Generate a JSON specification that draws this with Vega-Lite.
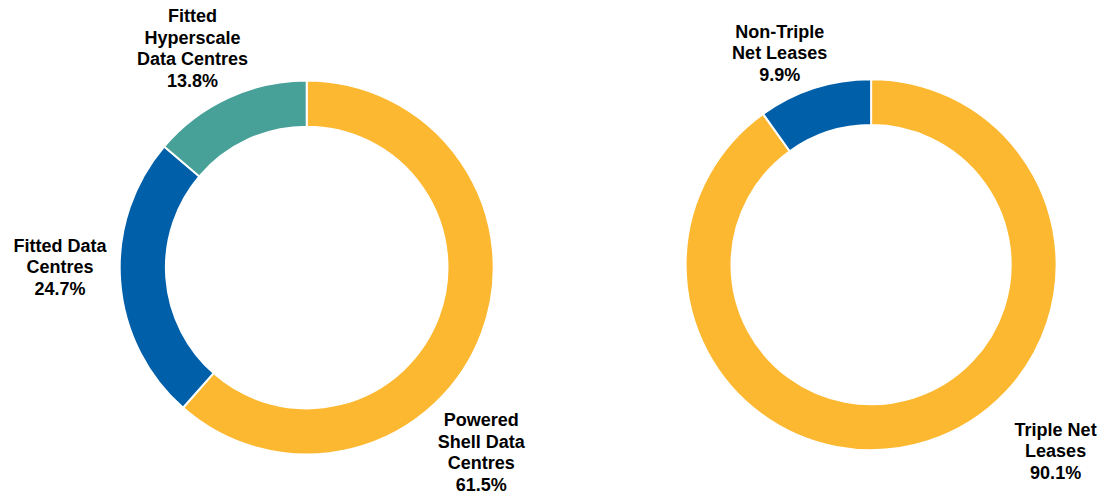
{
  "$schema": "https://vega.github.io/schema/vega-lite/v6.json",
  "padding": 0,
  "spacing": 27.1,
  "background": "white",
  "config": {
    "view": {"stroke": null},
    "text": {"font": "Liberation Sans", "fontSize": 18, "fontWeight": "bold", "lineHeight": 21.5, "lineBreak": "\n", "align": "center", "baseline": "middle", "color": "#000000"}
  },
  "datasets": {
    "assets": [
      {"seq": 1, "segment": "Powered Shell Data Centres", "label": "Powered\nShell Data\nCentres", "share": 61.5},
      {"seq": 2, "segment": "Fitted Data Centres", "label": "Fitted Data\nCentres", "share": 24.7},
      {"seq": 3, "segment": "Fitted Hyperscale Data Centres", "label": "Fitted\nHyperscale\nData Centres", "share": 13.8}
    ],
    "leases": [
      {"seq": 1, "segment": "Triple Net Leases", "label": "Triple Net\nLeases", "share": 90.1},
      {"seq": 2, "segment": "Non-Triple Net Leases", "label": "Non-Triple\nNet Leases", "share": 9.9}
    ]
  },
  "hconcat": [
    {
      "width": 613.4,
      "height": 535,
      "data": {"name": "assets"},
      "transform": [
        {"calculate": "datum.label + '\\n' + format(datum.share, '.1f') + '%'", "as": "caption"},
        {"stack": "share", "groupby": [], "sort": [{"field": "seq", "order": "ascending"}], "as": ["start", "end"]},
        {"calculate": "(datum.start + datum.end) / 2", "as": "mid"}
      ],
      "layer": [
        {
          "mark": {"type": "arc", "outerRadius": 187, "innerRadius": 140.8, "stroke": "white", "strokeWidth": 2},
          "encoding": {
            "theta": {"field": "start", "type": "quantitative", "scale": {"domain": [0, 100]}},
            "theta2": {"field": "end"},
            "color": {
              "field": "segment",
              "type": "nominal",
              "scale": {
                "domain": ["Powered Shell Data Centres", "Fitted Data Centres", "Fitted Hyperscale Data Centres"],
                "range": ["#FCB830", "#005FA9", "#47A198"]
              },
              "legend": null
            }
          }
        },
        {
          "transform": [{"filter": "datum.seq == 1"}],
          "mark": {"type": "text", "radius": 255, "thetaOffset": 0.4552, "dy": -32.25},
          "encoding": {
            "theta": {"field": "mid", "type": "quantitative", "scale": {"domain": [0, 100]}},
            "text": {"field": "caption"}
          }
        },
        {
          "transform": [{"filter": "datum.seq == 2"}],
          "mark": {"type": "text", "radius": 246.7, "thetaOffset": 0.0784, "dy": -19},
          "encoding": {
            "theta": {"field": "mid", "type": "quantitative", "scale": {"domain": [0, 100]}},
            "text": {"field": "caption"}
          }
        },
        {
          "transform": [{"filter": "datum.seq == 3"}],
          "mark": {"type": "text", "radius": 246.9, "thetaOffset": -0.0473, "dy": -31.5},
          "encoding": {
            "theta": {"field": "mid", "type": "quantitative", "scale": {"domain": [0, 100]}},
            "text": {"field": "caption"}
          }
        }
      ]
    },
    {
      "width": 460,
      "height": 529.4,
      "data": {"name": "leases"},
      "transform": [
        {"calculate": "datum.label + '\\n' + format(datum.share, '.1f') + '%'", "as": "caption"},
        {"stack": "share", "groupby": [], "sort": [{"field": "seq", "order": "ascending"}], "as": ["start", "end"]},
        {"calculate": "(datum.start + datum.end) / 2", "as": "mid"}
      ],
      "layer": [
        {
          "mark": {"type": "arc", "outerRadius": 185.5, "innerRadius": 139.6, "stroke": "white", "strokeWidth": 2},
          "encoding": {
            "theta": {"field": "start", "type": "quantitative", "scale": {"domain": [0, 100]}},
            "theta2": {"field": "end"},
            "color": {
              "field": "segment",
              "type": "nominal",
              "scale": {
                "domain": ["Triple Net Leases", "Non-Triple Net Leases"],
                "range": ["#FCB830", "#005FA9"]
              },
              "legend": null
            }
          }
        },
        {
          "transform": [{"filter": "datum.seq == 1"}],
          "mark": {"type": "text", "radius": 262.1, "thetaOffset": -0.470, "dy": -20},
          "encoding": {
            "theta": {"field": "mid", "type": "quantitative", "scale": {"domain": [0, 100]}},
            "text": {"field": "caption"}
          }
        },
        {
          "transform": [{"filter": "datum.seq == 2"}],
          "mark": {"type": "text", "radius": 231.5, "thetaOffset": -0.0951, "dy": -19.5},
          "encoding": {
            "theta": {"field": "mid", "type": "quantitative", "scale": {"domain": [0, 100]}},
            "text": {"field": "caption"}
          }
        }
      ]
    }
  ],
  "resolve": {"scale": {"color": "independent", "theta": "independent"}}
}
